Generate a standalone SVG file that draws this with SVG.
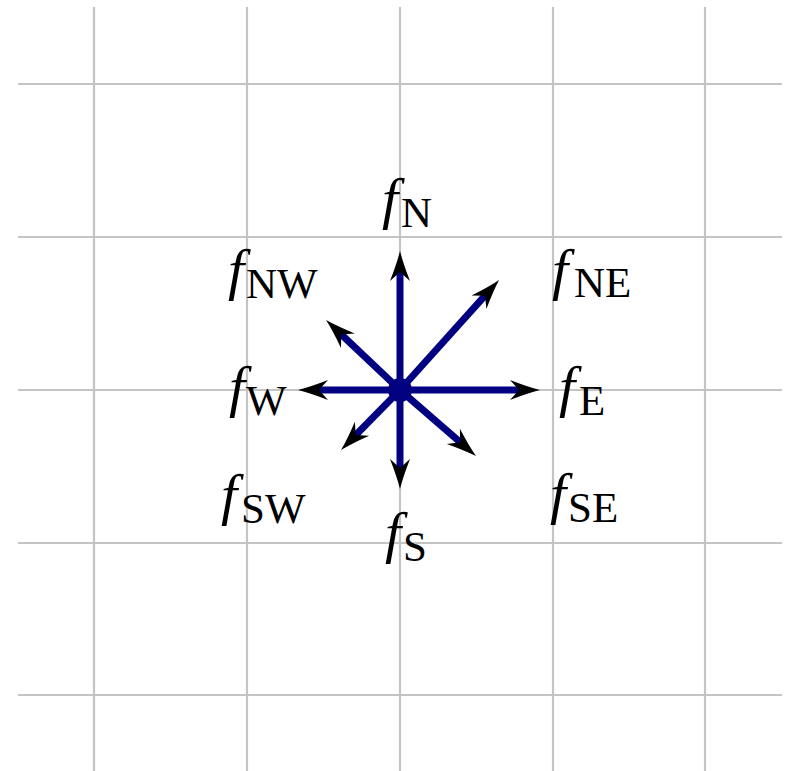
<svg xmlns="http://www.w3.org/2000/svg" width="789" height="771" viewBox="0 0 789 771">
<style>
.grid line{stroke:#c4c4c4;stroke-width:2.2}
.vec{stroke:#000080;stroke-width:7;fill:none;marker-end:url(#head)}
.f{font-family:"Liberation Serif",serif;font-style:italic;font-size:58px;fill:#000}
.sub{font-family:"Liberation Serif",serif;font-style:normal;font-size:43px;fill:#000}
</style>
<defs>
<marker id="head" viewBox="-14 -11 34 22" markerWidth="34" markerHeight="22" refX="0" refY="0" orient="auto" markerUnits="userSpaceOnUse">
<path d="M18,0 Q6,-3 -12,-10 L-3,0 L-12,10 Q6,3 18,0 Z" fill="#000"/>
</marker>
</defs>
<rect width="789" height="771" fill="#fff"/>
<g class="grid" id="grid">
<line x1="94" y1="7" x2="94" y2="771"/>
<line x1="247" y1="7" x2="247" y2="771"/>
<line x1="400" y1="7" x2="400" y2="771"/>
<line x1="553" y1="7" x2="553" y2="771"/>
<line x1="705" y1="7" x2="705" y2="771"/>
<line x1="18" y1="84" x2="782" y2="84"/>
<line x1="18" y1="237" x2="782" y2="237"/>
<line x1="18" y1="390" x2="782" y2="390"/>
<line x1="18" y1="543" x2="782" y2="543"/>
<line x1="18" y1="695" x2="782" y2="695"/>
</g>
<g id="connectors">
<line class="vec" x1="400" y1="390" x2="400" y2="269"/>
<line class="vec" x1="400" y1="390" x2="400" y2="471"/>
<line class="vec" x1="400" y1="390" x2="522" y2="390"/>
<line class="vec" x1="400" y1="390" x2="316" y2="390"/>
<line class="vec" x1="400" y1="390" x2="487" y2="293.4"/>
<line class="vec" x1="400" y1="390" x2="339.1" y2="332.4"/>
<line class="vec" x1="400" y1="390" x2="353.6" y2="437.2"/>
<line class="vec" x1="400" y1="390" x2="462.4" y2="444.2"/>
</g>
<g id="center"><circle cx="400" cy="390" r="12" fill="#000080"/></g>
<g id="fN"><text class="f" x="382" y="218">f</text><text class="sub" x="401" y="227">N</text></g>
<g id="fNW"><text class="f" x="228" y="289">f</text><text class="sub" x="246" y="298">NW</text></g>
<g id="fNE"><text class="f" x="552" y="289">f</text><text class="sub" x="574" y="297">NE</text></g>
<g id="fW"><text class="f" x="229" y="406">f</text><text class="sub" x="246" y="415">W</text></g>
<g id="fE"><text class="f" x="559" y="406">f</text><text class="sub" x="579" y="415">E</text></g>
<g id="fSW"><text class="f" x="221" y="514">f</text><text class="sub" x="241" y="523">SW</text></g>
<g id="fS"><text class="f" x="385" y="552">f</text><text class="sub" x="403" y="561">S</text></g>
<g id="fSE"><text class="f" x="550" y="513">f</text><text class="sub" x="568" y="522">SE</text></g>
</svg>
